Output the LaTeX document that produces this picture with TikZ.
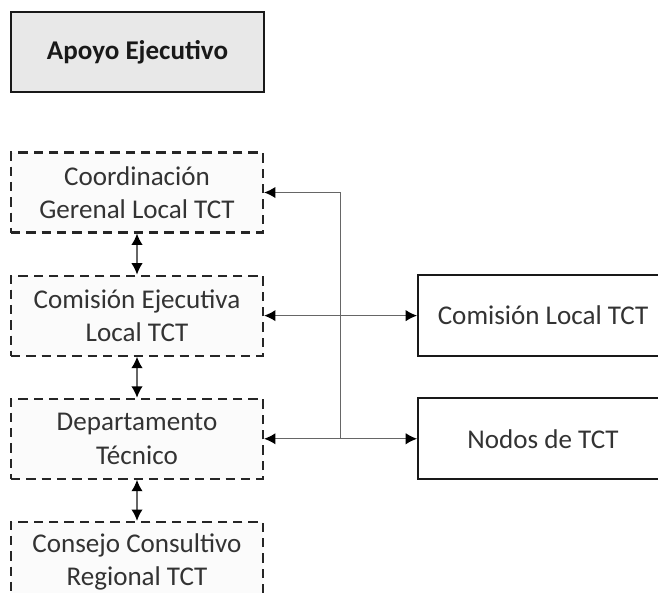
\documentclass[tikz,border=0pt]{standalone}
\usepackage{fontspec}
\setmainfont{Carlito}
\usetikzlibrary{arrows.meta,positioning,calc}
\tikzset{
  boxnode/.style = {align=center, inner sep=0pt, text centered, font=\fontsize{20.3}{25}\selectfont, text=black!80},
  dashbox/.style = {boxnode, rectangle, draw=black!85, line width=1.6pt, dash pattern=on 7pt off 4.5pt, fill=gray!3, minimum width=189pt, minimum height=60pt},
  solidbox/.style = {boxnode, rectangle, draw=black!90, line width=1.5pt, fill=white, minimum width=187.5pt, minimum height=60.75pt},
  headbox/.style = {boxnode, rectangle, draw=black!90, line width=1.5pt, fill=black!9, minimum width=189.75pt, minimum height=60pt, font=\fontsize{20.3}{25}\selectfont\bfseries, text=black!90},
  wire/.style = {line width=1pt, draw=black!60, >={Latex[length=8.5pt,width=8.5pt,color=black]}},
  link/.style = {wire, <->},
}
\begin{document}
\begin{tikzpicture}[x=0.75pt, y=-0.75pt, node distance=30.75pt]
\useasboundingbox (0,0) rectangle (658,593);
\node [headbox] (apoyo) at (137.5,52) {Apoyo Ejecutivo};

\node [dashbox] (coord) at (137,192.5) {Coordinación\\Gerenal Local TCT};
\node [dashbox, below=of coord] (comej) {Comisión Ejecutiva\\Local TCT};
\node [dashbox, below=of comej] (dept) {Departamento\\Técnico};
\node [dashbox, below=of dept] (consejo) {Consejo Consultivo\\Regional TCT};

\node [solidbox, right=114.75pt of comej] (comloc) {Comisión Local TCT};
\node [solidbox, right=114.75pt of dept] (nodos) {Nodos de TCT};

\draw[link] (coord) -- (comej);
\draw[link] (comej) -- (dept);
\draw[link] (dept) -- (consejo);

\coordinate (jn) at ($(dept.east)!0.5!(nodos.west)$);
\draw[wire, ->] (jn) |- (coord.east);
\draw[link] (comej) -- (comloc);
\draw[link] (dept) -- (nodos);
\end{tikzpicture}
\end{document}
